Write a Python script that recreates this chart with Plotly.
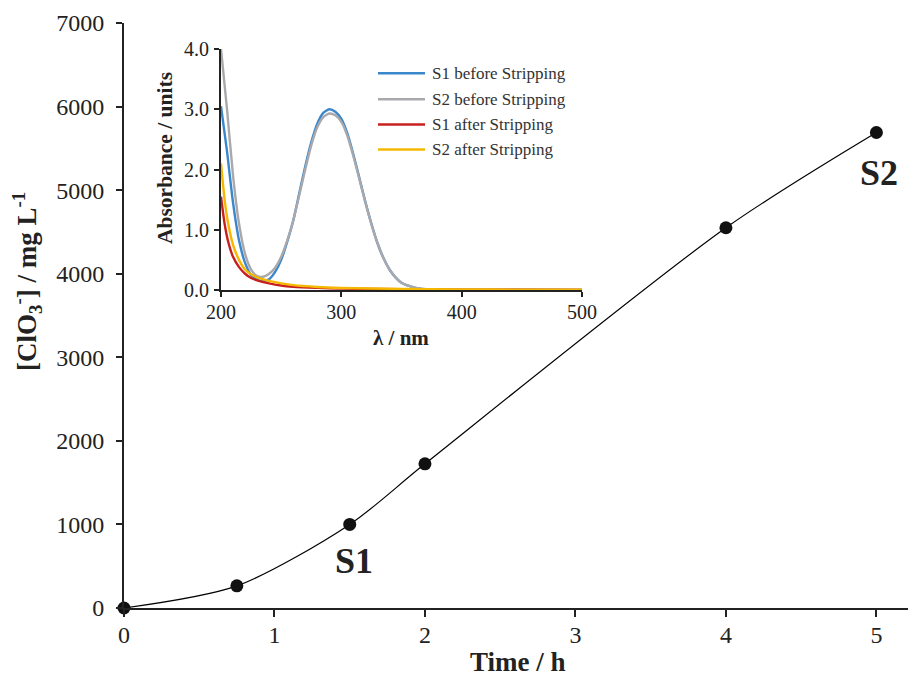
import plotly.graph_objects as go

# Chlorate concentration over time
time_h = [0, 0.75, 1.5, 2, 4, 5]
chlorate_mg_l = [0, 265, 1000, 1725, 4550, 5690]

# UV-Vis absorbance spectra (wavelength in nm)
wl_before = [200, 205, 210, 215, 220, 225, 230, 235, 240, 245, 250, 255, 260, 265, 270,
             275, 280, 285, 290, 295, 300, 305, 310, 315, 320, 325, 330, 335, 340, 345,
             350, 360, 370, 380, 400, 450, 500]
s1_before = [3.05, 2.3, 1.45, 0.82, 0.45, 0.25, 0.17, 0.15, 0.18, 0.3, 0.5, 0.8, 1.15, 1.6,
             2.05, 2.45, 2.76, 2.94, 3.0, 2.96, 2.84, 2.6, 2.25, 1.86, 1.46, 1.1, 0.78, 0.53,
             0.34, 0.21, 0.12, 0.045, 0.015, 0.006, 0.0, 0.0, 0.0]
s2_before = [4.0, 3.0, 1.9, 1.1, 0.6, 0.34, 0.23, 0.22, 0.27, 0.37, 0.55, 0.82, 1.15, 1.57,
             2.0, 2.4, 2.7, 2.87, 2.93, 2.9, 2.79, 2.56, 2.22, 1.84, 1.45, 1.09, 0.78, 0.53,
             0.34, 0.21, 0.12, 0.045, 0.015, 0.006, 0.0, 0.0, 0.0]

wl_after = [200, 203, 206, 210, 215, 220, 225, 230, 240, 250, 260, 280, 300, 350, 400, 450, 500]
s1_after = [1.55, 1.1, 0.8, 0.55, 0.38, 0.27, 0.2, 0.16, 0.11, 0.075, 0.055, 0.035, 0.022,
            0.012, 0.006, 0.003, 0.002]
s2_after = [2.1, 1.5, 1.1, 0.75, 0.5, 0.34, 0.26, 0.21, 0.15, 0.11, 0.08, 0.05, 0.034,
            0.018, 0.01, 0.006, 0.004]

series_names = ["S1 before Stripping", "S2 before Stripping",
                "S1 after Stripping", "S2 after Stripping"]
series_colors = ["#3a87cb", "#a9a9ad", "#c8201e", "#f5b800"]

FONT = "Liberation Serif"
INK = "#222222"

W, H = 908, 680
ML, MR, MT, MB = 124, 0, 23, 72
PW, PH = W - ML - MR, H - MT - MB


def px_x(px):
    """Horizontal pixel -> paper coordinate."""
    return (px - ML) / PW


def px_y(py):
    """Vertical pixel (from top) -> paper coordinate."""
    return (H - MB - py) / PH


fig = go.Figure()

fig.add_trace(go.Scatter(
    x=time_h, y=chlorate_mg_l, mode="lines+markers",
    line=dict(color="black", width=1.2, shape="spline", smoothing=0.8),
    marker=dict(color="#111111", size=13),
    cliponaxis=False, showlegend=False,
))

spectra = [(wl_before, s1_before), (wl_before, s2_before),
           (wl_after, s1_after), (wl_after, s2_after)]
for (x, y), name, c in zip(spectra, series_names, series_colors):
    fig.add_trace(go.Scatter(
        x=x, y=y, mode="lines", name=name, showlegend=False,
        line=dict(color=c, width=2.4, shape="spline", smoothing=0.6),
        xaxis="x2", yaxis="y2", cliponaxis=False,
    ))

axis_common = dict(showgrid=False, zeroline=False, showline=True, linecolor=INK,
                   linewidth=2, ticks="outside", tickcolor=INK, automargin=False)

fig.update_layout(
    width=W, height=H,
    margin=dict(l=ML, r=MR, t=MT, b=MB),
    paper_bgcolor="white", plot_bgcolor="white",
    font=dict(family=FONT, color=INK),
    showlegend=False,
    xaxis=dict(
        range=[0, 5.21], tickvals=[0, 1, 2, 3, 4, 5],
        ticklen=7, tickwidth=1.5, ticklabelstandoff=-3,
        tickfont=dict(size=24, family=FONT, color=INK), **axis_common,
    ),
    yaxis=dict(
        range=[0, 7000], tickvals=[0, 1000, 2000, 3000, 4000, 5000, 6000, 7000],
        ticklen=6, tickwidth=1.5, ticklabelstandoff=7,
        tickfont=dict(size=24, family=FONT, color=INK), **axis_common,
    ),
    xaxis2=dict(
        domain=[px_x(221), px_x(582)], anchor="y2", range=[200, 500],
        tickvals=[200, 300, 400, 500], ticklen=5, tickwidth=1.5, ticklabelstandoff=-2,
        tickfont=dict(size=20, family=FONT, color=INK), **axis_common,
    ),
    yaxis2=dict(
        domain=[px_y(290), px_y(49)], anchor="x2", range=[0, 4.0],
        tickvals=[0, 1, 2, 3, 4], tickformat=".1f", ticklen=5, tickwidth=1.5,
        ticklabelstandoff=1,
        tickfont=dict(size=20, family=FONT, color=INK), **axis_common,
    ),
)

annotations = [
    # axis titles
    dict(x=px_x(518), y=px_y(662), text="<b>Time / h</b>",
         font=dict(size=27, family=FONT, color=INK)),
    dict(x=px_x(27), y=px_y(282), textangle=-90,
         text="<b>[ClO<sub>3</sub><sup>-</sup>] / mg L<sup>-1</sup></b>",
         font=dict(size=27, family=FONT, color=INK)),
    dict(x=px_x(401), y=px_y(338), text="<b>λ / nm</b>",
         font=dict(size=21, family=FONT, color=INK)),
    dict(x=px_x(165), y=px_y(158), textangle=-90, text="<b>Absorbance / units</b>",
         font=dict(size=21.5, family=FONT, color=INK)),
]
for a in annotations:
    a.update(xref="paper", yref="paper", showarrow=False,
             xanchor="center", yanchor="middle", borderpad=0)

# sample labels next to the data points
annotations += [
    dict(x=time_h[2], y=chlorate_mg_l[2], xref="x", yref="y", text="<b>S1</b>",
         showarrow=False, xshift=4, yshift=-37, font=dict(size=36, family=FONT, color=INK)),
    dict(x=time_h[5], y=chlorate_mg_l[5], xref="x", yref="y", text="<b>S2</b>",
         showarrow=False, xshift=3, yshift=-41, font=dict(size=36, family=FONT, color=INK)),
]

# legend for the inset spectra
shapes = []
rows = [73.3, 99.3, 124.5, 149.5]
for name, c, ry in zip(series_names, series_colors, rows):
    shapes.append(dict(type="line", xref="paper", yref="paper",
                       x0=px_x(378), x1=px_x(425), y0=px_y(ry), y1=px_y(ry),
                       line=dict(color=c, width=2.4)))
    annotations.append(dict(x=px_x(430), y=px_y(ry), xref="paper", yref="paper",
                            xanchor="left", yanchor="middle", showarrow=False, text=name,
                            font=dict(size=17, family=FONT, color="#333333")))

fig.update_layout(annotations=annotations, shapes=shapes)

fig.write_html("out.html")
